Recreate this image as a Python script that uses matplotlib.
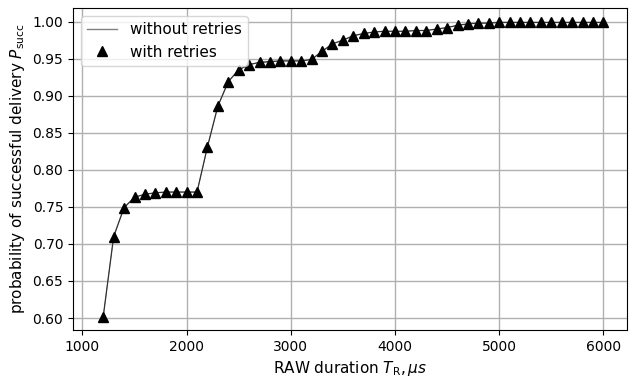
import matplotlib
matplotlib.use("Agg")
import matplotlib.pyplot as plt

# RAW duration in microseconds
raw_duration = list(range(1200, 6100, 100))

# probability of successful delivery
p_succ = [
    0.602, 0.710, 0.749, 0.763, 0.767, 0.769, 0.770, 0.770, 0.770, 0.770,
    0.831, 0.886, 0.919, 0.935, 0.942, 0.945, 0.946, 0.947, 0.947, 0.947,
    0.949, 0.960, 0.970, 0.975, 0.981, 0.984, 0.986, 0.987, 0.987, 0.987,
    0.988, 0.988, 0.990, 0.992, 0.995, 0.997, 0.998, 0.998, 0.999, 0.999,
    0.999, 0.999, 0.999, 0.999, 0.999, 0.999, 0.999, 0.999, 0.999,
]

fig, ax = plt.subplots(figsize=(6.35, 3.77), dpi=100)
ax.plot(raw_duration, p_succ, color="gray", linewidth=1.0, label="without retries")
ax.plot(raw_duration, p_succ, color="#222222", linewidth=0.6)
ax.plot(raw_duration, p_succ, "k^", markersize=6.5, linestyle="none", label="with retries")

ax.set_xlim(910, 6230)
ax.set_ylim(0.584, 1.018)
ax.set_xticks([1000, 2000, 3000, 4000, 5000, 6000])
ax.set_yticks([0.60, 0.65, 0.70, 0.75, 0.80, 0.85, 0.90, 0.95, 1.00])
ax.grid(True, color="#b0b0b0", linewidth=1)
ax.set_axisbelow(True)

ax.set_xlabel(r"RAW duration $T_\mathrm{R}, \mu s$", fontsize=11)
ax.set_ylabel(r"probability of successful delivery $P_\mathrm{succ}$", fontsize=11)
ax.tick_params(labelsize=10)
ax.legend(loc="upper left", fontsize=11)

fig.subplots_adjust(left=0.115, right=0.988, top=0.978, bottom=0.125)
fig.savefig("out.png", dpi=100)
